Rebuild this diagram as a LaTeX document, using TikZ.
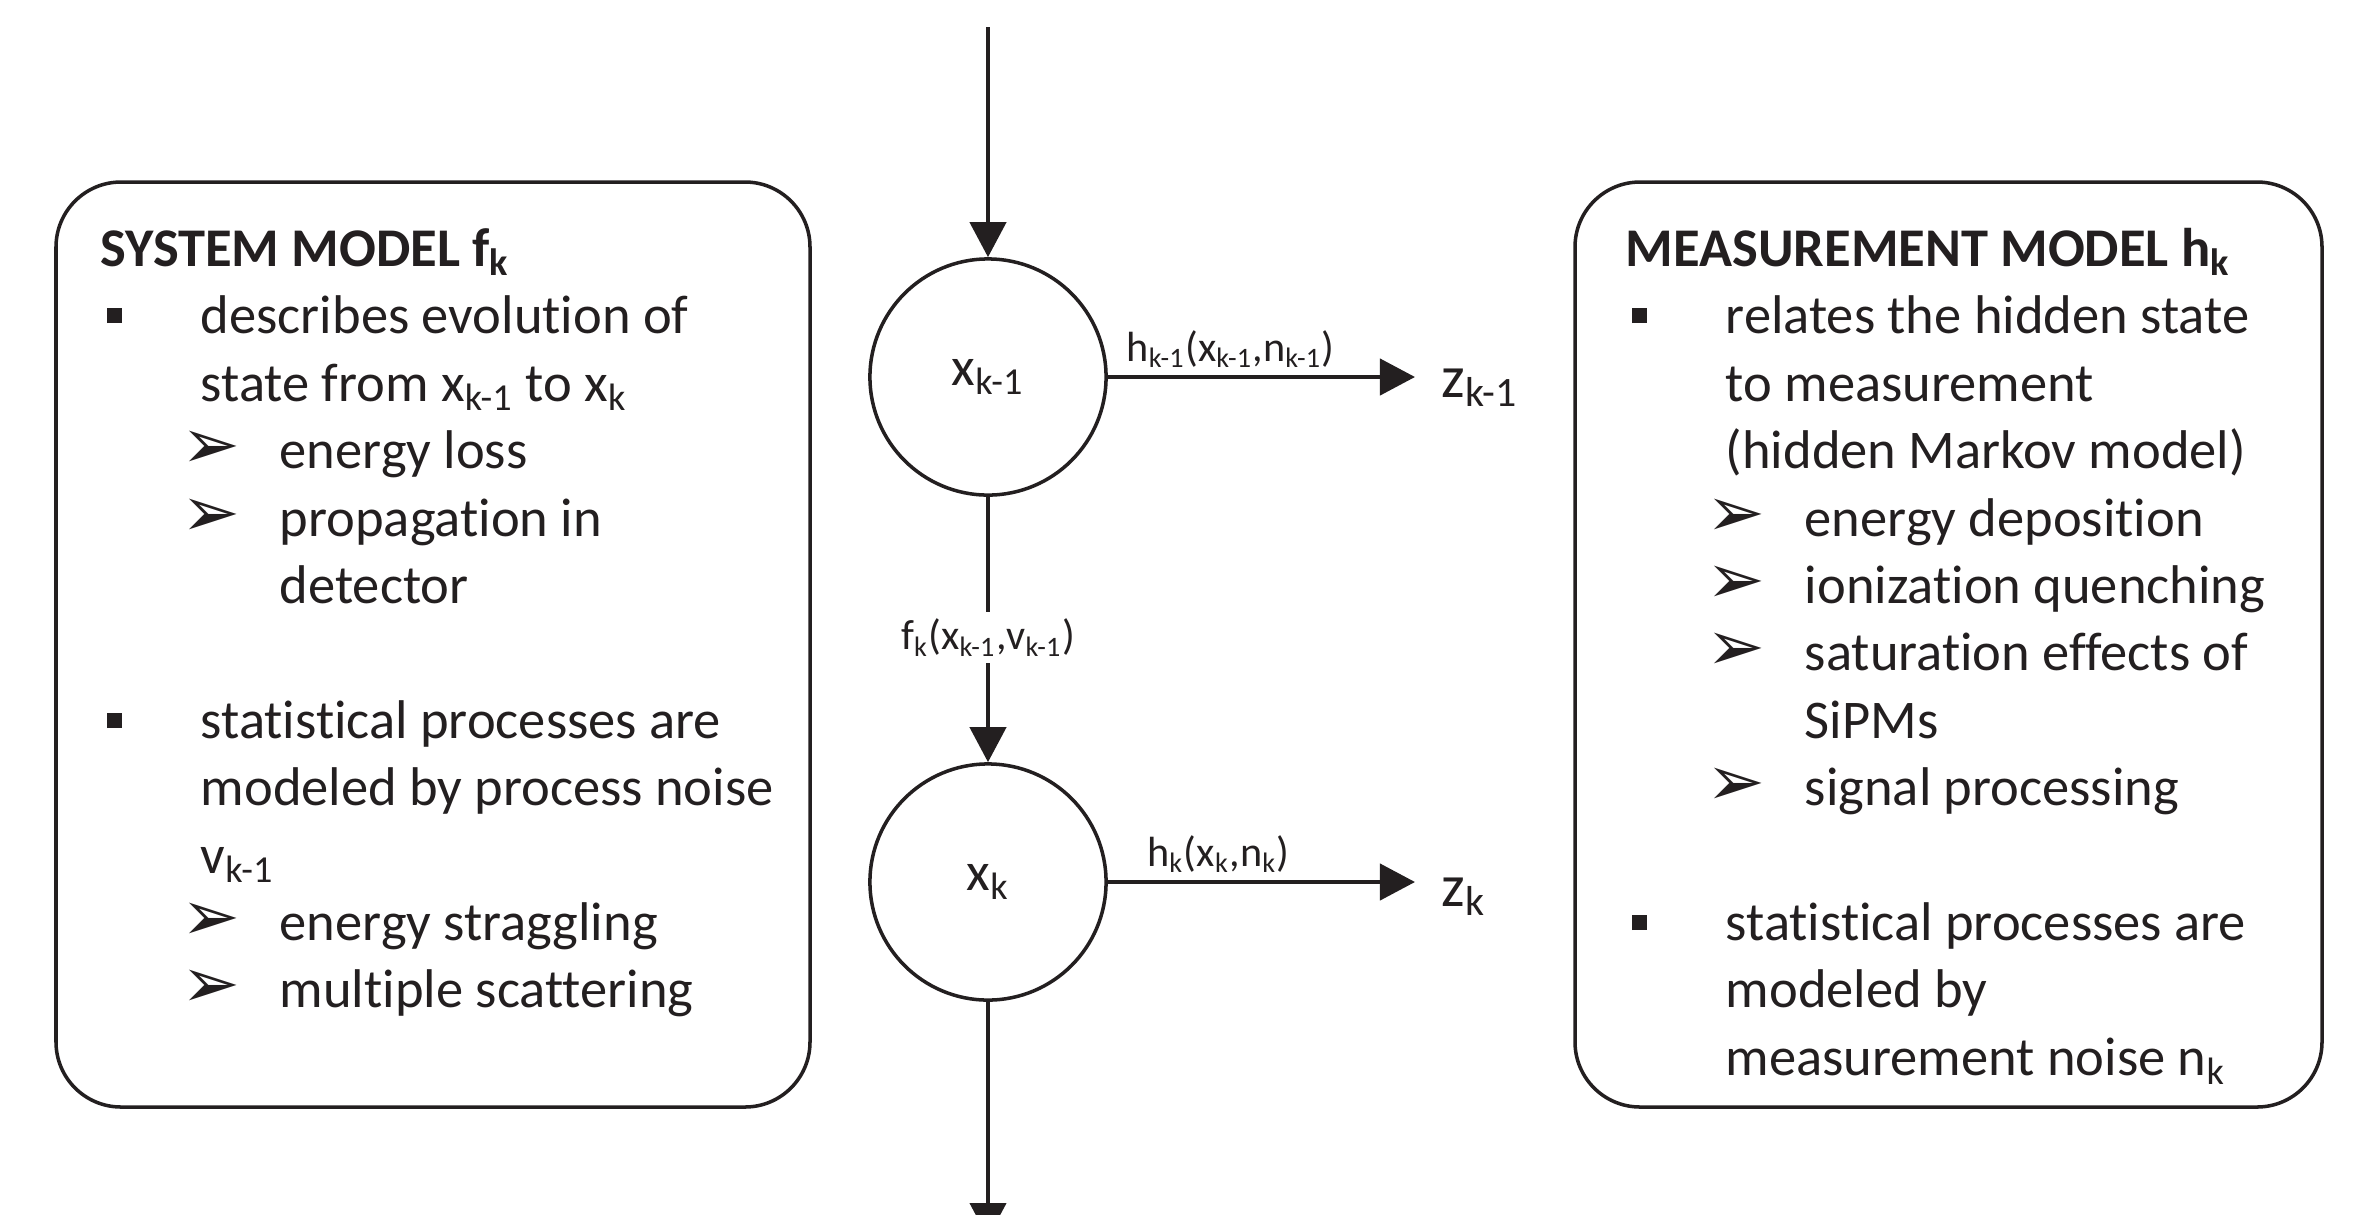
\documentclass[tikz,border=0pt]{standalone}
\usepackage{fontspec}
\setmainfont{Carlito}[Ligatures=NoCommon]
\newfontfamily\symfont{DejaVu Sans}
\usetikzlibrary{arrows.meta}
\definecolor{ink}{HTML}{231F20}

\newcommand{\bodyfont}{\fontsize{15.5}{19.2}\selectfont}
\newcommand{\labfont}{\fontsize{12}{14}\selectfont}
\newcommand{\lo}[1]{\textsubscript{#1}}
\newcommand{\sqmark}{\raisebox{0.1cm}{\rule{0.15cm}{0.15cm}}}
\newcommand{\bitem}[1]{\hspace*{0.06cm}\makebox[0.94cm][l]{\sqmark}#1}
\newcommand{\citem}[1]{\hspace*{1.00cm}#1}
\newcommand{\aitem}[1]{\hspace*{0.81cm}\makebox[0.98cm][l]{{\symfont\fontsize{20}{20}\selectfont ➢}}#1}
\newcommand{\ditem}[1]{\hspace*{1.79cm}#1}

\begin{document}
\begin{tikzpicture}[x=0.01cm, y=-0.01cm, color=ink,
  line/.style={anchor=base west, inner sep=0pt, font=\bodyfont, text=ink},
  modelbox/.style={line width=1pt, rounded corners=0.65cm},
  state/.style={circle, draw, line width=1pt, minimum size=2.36cm, inner sep=0pt, font=\bodyfont},
  zlab/.style={anchor=west, inner sep=0pt, inner xsep=0.26cm, font=\fontsize{17}{20}\selectfont},
  arr/.style={line width=1.2pt, -{Triangle[length=0.35cm, width=0.36cm]}},
  lab/.style={font=\labfont, inner sep=2pt}]
\useasboundingbox (0,0) rectangle (2363,1214);

% model boxes
\draw[modelbox] (56,182) rectangle (810,1107);
\draw[modelbox] (1575,182) rectangle (2322,1107);

\foreach \n/\y/\txt in {1/266/{\textbf{SYSTEM MODEL f\lo{k}}},
    2/333/{\bitem{describes evolution of}},
    3/401/{\citem{state from x\lo{k-1} to x\lo{k}}},
    4/468/{\aitem{energy loss}},
    5/536/{\aitem{propagation in}},
    6/603/{\ditem{detector}},
    7/738/{\bitem{statistical processes are}},
    8/805/{\citem{modeled by process noise}},
    9/873/{\citem{v\lo{k-1}}},
    10/940/{\aitem{energy straggling}},
    11/1007/{\aitem{multiple scattering}}}
  \node[line] (sys\n) at (100,\y) {\txt};

\foreach \n/\y/\txt in {1/266/{\textbf{MEASUREMENT MODEL h\lo{k}}},
    2/333/{\bitem{relates the hidden state}},
    3/401/{\citem{to measurement}},
    4/468/{\citem{(hidden Markov model)}},
    5/536/{\aitem{energy deposition}},
    6/603/{\aitem{ionization quenching}},
    7/670/{\aitem{saturation effects of}},
    8/738/{\ditem{SiPMs}},
    9/805/{\aitem{signal processing}},
    10/940/{\bitem{statistical processes are}},
    11/1007/{\citem{modeled by}},
    12/1075/{\citem{measurement noise n\lo{k}}}}
  \node[line] (meas\n) at (1625,\y) {\txt};

% state chain
\node[state] (xprev) at (988,377) {x\lo{k-1}};
\node[state] (xcur) at (988,882) {x\lo{k}};
\coordinate (top) at (988,27);
\coordinate (bot) at (988,1238);
\node[zlab] (zprev) at (1415,388) {z\lo{k-1}};
\node[zlab] (zcur) at (1415,897) {z\lo{k}};

\draw[arr] (top) -- (xprev);
\draw[arr] (xprev) -- node[lab, fill=white, pos=0.53] {f\lo{k}(x\lo{k-1},v\lo{k-1})} (xcur);
\draw[arr] (xcur) -- (bot);
\draw[arr] (xprev.east) -- node[lab, above, pos=0.4] {h\lo{k-1}(x\lo{k-1},n\lo{k-1})} (xprev.east -| zprev.west);
\draw[arr] (xcur.east) -- node[lab, above, pos=0.36] {h\lo{k}(x\lo{k},n\lo{k})} (xcur.east -| zcur.west);
\end{tikzpicture}
\end{document}
